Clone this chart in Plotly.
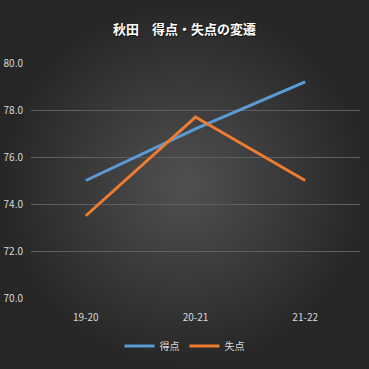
import plotly.graph_objects as go

seasons = ["19-20", "20-21", "21-22"]
scored = [75.0, 77.2, 79.2]
conceded = [73.5, 77.7, 75.0]
y_ticks = [70, 72, 74, 76, 78, 80]
y_tick_labels = ["70.0", "72.0", "74.0", "76.0", "78.0", "80.0"]

W = H = 369
L, R, T, B = 31, 360, 63, 298
font_main = "Noto Sans CJK JP, Noto Sans, sans-serif"
tick_col = "#d9d9d9"

fig = go.Figure()

# background with radial gradient (decorative)
fig.add_trace(go.Scatter(
    x=[0, 1, 1, 0, 0], y=[0, 0, 1, 1, 0], mode="lines", fill="toself",
    line=dict(width=0), hoverinfo="skip", showlegend=False,
    fillgradient=dict(type="radial", colorscale=[[0, "#505050"], [1, "#262626"]]),
    xaxis="x", yaxis="y",
))

fig.add_trace(go.Scatter(
    x=seasons, y=scored, name="得点", mode="lines",
    line=dict(color="#5b9bd5", width=3), xaxis="x2", yaxis="y2",
))
fig.add_trace(go.Scatter(
    x=seasons, y=conceded, name="失点", mode="lines",
    line=dict(color="#ed7d31", width=3), xaxis="x2", yaxis="y2",
))

fig.update_layout(
    width=W, height=H,
    margin=dict(l=0, r=0, t=0, b=0, pad=0, autoexpand=False),
    paper_bgcolor="#262626", plot_bgcolor="rgba(0,0,0,0)",
    font=dict(family=font_main, color=tick_col, size=10),
    xaxis=dict(domain=[0, 1], range=[0, 1], visible=False, fixedrange=True, automargin=False),
    yaxis=dict(domain=[0, 1], range=[0, 1], visible=False, fixedrange=True, automargin=False),
    xaxis2=dict(domain=[L / W, R / W], anchor="y2", type="category", automargin=False,
                range=[-0.5, 2.5], showgrid=False, zeroline=False, showline=False,
                ticks="", tickfont=dict(size=10, color=tick_col), ticklabelstandoff=12),
    yaxis2=dict(domain=[1 - B / H, 1 - T / H], anchor="x2", range=[70, 80], automargin=False,
                tickvals=y_ticks, ticktext=y_tick_labels,
                showgrid=True, gridcolor="#5f5f5f", gridwidth=1,
                zeroline=False, showline=False, ticks="",
                tickfont=dict(size=10, color=tick_col), ticklabelstandoff=7),
    showlegend=True,
    legend=dict(orientation="h", x=0.5, xanchor="center", y=1 - 346 / H, yanchor="middle",
                font=dict(size=10, color=tick_col), bgcolor="rgba(0,0,0,0)",
                itemwidth=30, tracegroupgap=0),
)

title = "秋田　得点・失点の変遷"
fig.add_annotation(text="<b>" + title + "</b>", xref="paper", yref="paper",
                   x=0.5, y=1 - 29 / H, xanchor="center", yanchor="middle",
                   xshift=1, yshift=-1, showarrow=False,
                   font=dict(size=13, color="#000000", family=font_main), opacity=0.6)
fig.add_annotation(text="<b>" + title + "</b>", xref="paper", yref="paper",
                   x=0.5, y=1 - 29 / H, xanchor="center", yanchor="middle", showarrow=False,
                   font=dict(size=13, color="#ffffff", family=font_main))

fig.write_html("out.html")
